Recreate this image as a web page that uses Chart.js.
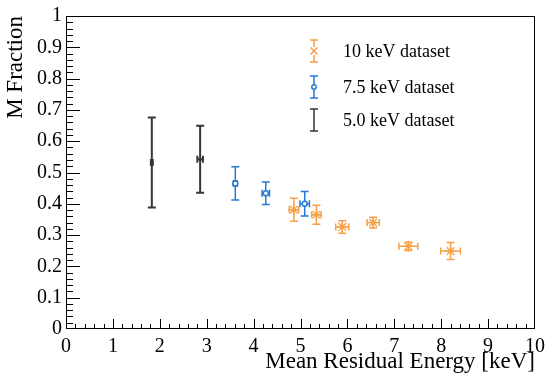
<!DOCTYPE html>
<html>
<head>
<meta charset="utf-8">
<title>M Fraction vs Mean Residual Energy</title>
<script src="https://cdn.jsdelivr.net/npm/chart.js@4.4.1/dist/chart.umd.min.js"></script>
<style>
    body { margin: 0; background: #ffffff; }
    #wrap { width: 551px; height: 385px; }
</style>
</head>
<body>
<div id="wrap"><canvas id="myChart" width="551" height="385"></canvas></div>
<script>
// 10 keV dataset
const orangeX = [4.86, 5.34, 5.89, 6.55, 7.30, 8.20];
const orangeY = [0.381, 0.365, 0.326, 0.340, 0.264, 0.249];
const orangeXErr = [0.10, 0.10, 0.14, 0.13, 0.20, 0.21];
const orangeYErr = [0.037, 0.030, 0.020, 0.017, 0.013, 0.027];

// 7.5 keV dataset
const blueX = [3.61, 4.26, 5.09];
const blueY = [0.465, 0.434, 0.400];
const blueXErr = [0.04, 0.08, 0.10];
const blueYErr = [0.053, 0.036, 0.039];

// 5.0 keV dataset
const blackX = [1.83, 2.86];
const blackY = [0.532, 0.542];
const blackXErr = [0.02, 0.06];
const blackYErr = [0.144, 0.107];

const seriesLabels = ['10 keV dataset', '7.5 keV dataset', '5.0 keV dataset'];
const xTitle = 'Mean Residual Energy [keV]';
const yTitle = 'M Fraction';

const ORANGE = 'rgb(246, 160, 72)';
const BLUE = 'rgb(36, 122, 212)';
const BLACK = 'rgb(55, 55, 55)';

Chart.defaults.font.family = '"Liberation Serif", "Times New Roman", serif';
Chart.defaults.color = '#000';

/**
 * builds the point list for one series
 */
function toPoints(xs, ys) {
    return xs.map((x, i) => ({ x: x, y: ys[i] }));
}

/**
 * draws the error bars with little caps at the ends
 */
function drawErrorBars(chart) {
    const ctx = chart.ctx;
    const xs = chart.scales.x;
    const ys = chart.scales.y;
    chart.data.datasets.forEach(ds => {
        ctx.save();
        ctx.strokeStyle = ds.borderColor;
        ctx.lineWidth = ds.errWidth;
        ds.data.forEach((p, i) => {
            const px = xs.getPixelForValue(p.x);
            const py = ys.getPixelForValue(p.y);
            const top = ys.getPixelForValue(p.y + ds.yErr[i]);
            const bot = ys.getPixelForValue(p.y - ds.yErr[i]);
            const l = xs.getPixelForValue(p.x - ds.xErr[i]);
            const r = xs.getPixelForValue(p.x + ds.xErr[i]);
            ctx.beginPath();
            ctx.moveTo(px, top); ctx.lineTo(px, bot);
            ctx.moveTo(px - 4, top); ctx.lineTo(px + 4, top);
            ctx.moveTo(px - 4, bot); ctx.lineTo(px + 4, bot);
            ctx.moveTo(l, py); ctx.lineTo(r, py);
            ctx.moveTo(l, py - 3.5); ctx.lineTo(l, py + 3.5);
            ctx.moveTo(r, py - 3.5); ctx.lineTo(r, py + 3.5);
            ctx.stroke();
        });
        ctx.restore();
    });
}

/**
 * draws the frame and the inside ticks like a ROOT canvas
 */
function drawFrame(chart) {
    const ctx = chart.ctx;
    const a = chart.chartArea;
    const xs = chart.scales.x;
    const ys = chart.scales.y;
    ctx.save();
    ctx.strokeStyle = '#000';
    ctx.lineWidth = 1;
    ctx.strokeRect(a.left + 0.5, a.top + 0.5, a.right - a.left - 1, a.bottom - a.top - 1);
    ctx.beginPath();
    for (let i = 1; i < 50; i++) {
        const px = Math.round(xs.getPixelForValue(i * 0.2)) + 0.5;
        const len = i % 5 === 0 ? 10 : 5;
        ctx.moveTo(px, a.bottom); ctx.lineTo(px, a.bottom - len);
    }
    for (let i = 1; i < 50; i++) {
        const py = Math.round(ys.getPixelForValue(i * 0.02)) + 0.5;
        const len = i % 5 === 0 ? 14 : 7;
        ctx.moveTo(a.left, py); ctx.lineTo(a.left + len, py);
    }
    ctx.stroke();
    ctx.restore();
}

/**
 * draws the legend inside the plot
 */
function drawLegend(chart) {
    const ctx = chart.ctx;
    const rows = [51, 87, 120];
    const sx = 314;
    ctx.save();
    chart.data.datasets.forEach((ds, i) => {
        const y = rows[i];
        ctx.strokeStyle = ds.borderColor;
        ctx.lineWidth = 1.5;
        ctx.beginPath();
        ctx.moveTo(sx, y - 11); ctx.lineTo(sx, y + 11);
        ctx.moveTo(sx - 4, y - 11); ctx.lineTo(sx + 4, y - 11);
        ctx.moveTo(sx - 4, y + 11); ctx.lineTo(sx + 4, y + 11);
        ctx.stroke();
        if (i === 0) {
            ctx.fillStyle = '#fff';
            ctx.fillRect(sx - 4, y - 4, 8, 8);
            ctx.beginPath();
            ctx.moveTo(sx - 3.5, y - 3.5); ctx.lineTo(sx + 3.5, y + 3.5);
            ctx.moveTo(sx - 3.5, y + 3.5); ctx.lineTo(sx + 3.5, y - 3.5);
            ctx.stroke();
        } else if (i === 1) {
            ctx.fillStyle = '#fff';
            ctx.beginPath();
            ctx.arc(sx, y, 2.2, 0, Math.PI * 2);
            ctx.fill();
            ctx.stroke();
        }
        ctx.fillStyle = '#000';
        ctx.font = '18px "Liberation Serif"';
        ctx.textBaseline = 'middle';
        ctx.fillText(ds.label, 343, y + 1);
    });
    ctx.restore();
}

const rootStyle = {
    id: 'rootStyle',
    beforeDatasetsDraw(chart) {
        drawErrorBars(chart);
    },
    afterDraw(chart) {
        drawFrame(chart);
        drawLegend(chart);
    }
};

function drawChart() {
    const canvas = document.getElementById('myChart');
    const ctx = canvas.getContext('2d');
    myChart = new Chart(ctx, {
        type: 'scatter',
        data: {
            datasets: [{
                label: seriesLabels[0],
                data: toPoints(orangeX, orangeY),
                xErr: orangeXErr,
                yErr: orangeYErr,
                errWidth: 1.5,
                borderColor: ORANGE,
                backgroundColor: ORANGE,
                pointStyle: 'star',
                pointRadius: 5.5,
                pointBorderWidth: 1.3
            }, {
                label: seriesLabels[1],
                data: toPoints(blueX, blueY),
                xErr: blueXErr,
                yErr: blueYErr,
                errWidth: 1.5,
                borderColor: BLUE,
                backgroundColor: '#fff',
                pointStyle: 'circle',
                pointRadius: 2.5,
                pointBorderWidth: 1.5
            }, {
                label: seriesLabels[2],
                data: toPoints(blackX, blackY),
                xErr: blackXErr,
                yErr: blackYErr,
                errWidth: 2,
                borderColor: BLACK,
                backgroundColor: BLACK,
                pointStyle: 'rect',
                pointRadius: 1.5,
                pointBorderWidth: 1
            }]
        },
        options: {
            responsive: false,
            animation: false,
            devicePixelRatio: 1,
            layout: { padding: { top: 10, right: 10, left: 0, bottom: 0 } },
            plugins: {
                legend: { display: false },
                tooltip: { enabled: false }
            },
            scales: {
                x: {
                    type: 'linear',
                    min: 0,
                    max: 10,
                    grid: { display: false, drawTicks: false },
                    border: { display: false },
                    ticks: { stepSize: 1, padding: 6, font: { size: 20 }, maxRotation: 0 },
                    title: {
                        display: true,
                        text: xTitle,
                        align: 'end',
                        font: { size: 23 },
                        padding: { top: 0, bottom: 9 }
                    },
                    afterFit(scale) { scale.height = 56; }
                },
                y: {
                    type: 'linear',
                    min: 0,
                    max: 1,
                    grid: { display: false, drawTicks: false },
                    border: { display: false },
                    ticks: {
                        stepSize: 0.1,
                        padding: 4,
                        font: { size: 20 },
                        callback: v => String(Math.round(v * 10) / 10)
                    },
                    title: {
                        display: true,
                        text: yTitle,
                        align: 'end',
                        font: { size: 23 },
                        padding: { top: 2, bottom: 0 }
                    },
                    afterFit(scale) { scale.width = 66; }
                }
            }
        },
        plugins: [rootStyle]
    });
}

drawChart();
</script>
</body>
</html>
